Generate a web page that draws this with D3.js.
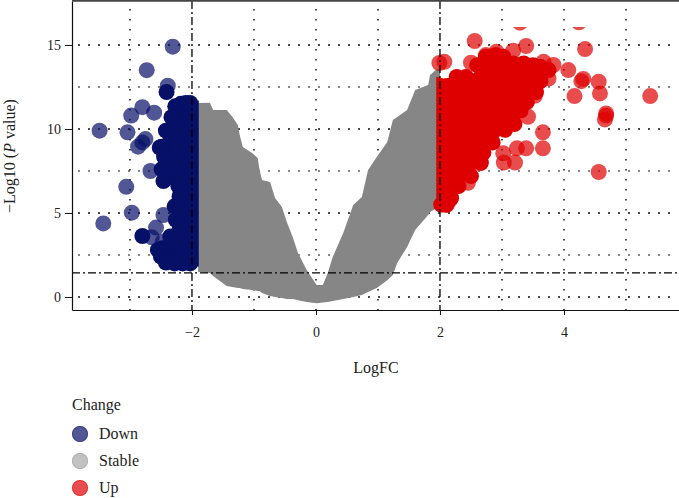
<!DOCTYPE html>
<html>
<head>
<meta charset="utf-8">
<script src="https://cdn.jsdelivr.net/npm/d3@7"></script>
<style>
  html, body { margin: 0; padding: 0; background: #fff; }
  text { font-family: "Liberation Serif", serif; fill: #222; }
</style>
</head>
<body>
<div id="chart-area"></div>
<script>
// values
var xTicks = [-2, 0, 2, 4];
var yTicks = [0, 5, 10, 15];
var xGrid = [-3, -1, 0, 1, 3, 4, 5];
var yGridMajor = [0, 5, 10, 15];
var yGridMinor = [2.5, 7.5, 12.5];
var fcCut = [-2, 2];
var pCut = 1.44;
var groups = ["Down", "Stable", "Up"];
var groupColors = ["#051066", "#868686", "#de0000"];
var groupOpacity = [0.7, 0.5, 0.7];

// stable cloud: logFC, upper and lower edge of -log10(p)
var stableFC = [-1.9,-1.71,-1.66,-1.44,-1.35,-1.26,-1.23,-1.18,-1.03,-0.94,-0.91,-0.87,-0.74,-0.66,-0.55,-0.47,-0.37,-0.29,-0.15,0.01,0.11,0.19,0.27,0.44,0.6,0.74,0.84,0.98,1.15,1.24,1.31,1.47,1.6,1.81,1.84,1.95,2];
var stableTop = [11.55,11.57,11.13,11.13,10.73,10.24,9.64,8.93,8.57,8.27,7.56,6.96,6.85,5.89,5.36,4.46,3.51,2.62,1.6,0.71,0.71,1.43,2.38,3.81,5.48,5.95,7.56,8.33,9.23,10.54,10.71,11.13,12.32,12.62,13.21,13.57,13.57];
var stableBottom = [1.49,1.43,1.25,0.65,0.6,0.54,0.53,0.48,0.42,0.36,0.36,0.24,0.06,0,-0.06,-0.12,-0.12,-0.2,-0.3,-0.37,-0.33,-0.3,-0.24,-0.12,0,0.12,0.3,0.54,1,1.31,2.02,2.98,3.99,4.88,5.06,5.3,5.3];

// dense part of the down genes, outline and the overlapping points on its rim
var downCoreFC = [-1.89,-1.89,-2,-2.3,-2.47,-2.52,-2.36,-2.28,-2.31,-2.23,-2.25,-2.42,-2.51,-2.47,-2.51,-2.44,-2.36,-2.25,-2.1];
var downCoreP = [11.7,1.8,1.9,1.9,2.5,2.9,3.7,4.6,5.4,6,6.6,7.1,7.6,8.35,8.95,9.9,10.7,11.3,11.6];
var downRimFC = [-2.03,-2.15,-2.28,-2.42,-2.48,-2.35,-2.26,-2.28,-2.2,-2.22,-2.4,-2.49,-2.45,-2.49,-2.42,-2.33,-2.22,-2.08,-2.03,-2.55,-2.5,-2.42,-2.46,-2.52,-2.8,-2.41,-2.27,-2.18,-2.1];
var downRimP = [2,2,2,2.5,2.9,3.6,4.6,5.4,6,6.6,7.1,7.6,8.35,8.95,9.9,10.7,11.2,11.5,11.55,2.8,2.4,2.05,6.9,8.9,3.63,12.2,11.35,11.5,11.55];
// single down genes
var downFC = [-2.31,-2.73,-2.39,-2.8,-2.98,-2.61,-3.49,-3.04,-2.75,-2.8,-2.87,-3.06,-2.97,-3.43,-2.67,-2.58,-2.46,-2.65,-2.47];
var downP = [14.9,13.5,12.58,11.3,10.8,10.97,9.9,9.8,9.4,9.2,8.95,6.56,5.02,4.38,7.5,4.13,4.88,3.55,3.3];

// dense part of the up genes, outline and the overlapping points on its rim
var upCoreFC = [1.94,2.05,2.27,2.5,2.7,2.85,3,3.2,3.5,3.7,3.72,3.6,3.5,3.3,3.3,3.15,2.9,2.8,2.65,2.6,2.45,2.25,2.18,2.08,2,1.94];
var upCoreP = [13.11,13,13.1,13.2,13.8,14.2,14.2,13.8,13.7,13.6,13.3,12.5,11.8,11.3,10.8,10,9.4,8.8,8.2,7.7,7.1,6.4,5.6,5.4,5.4,5.5];
var upRimFC = [2.27,2.42,2.6,2.74,2.9,3.02,3.18,3.35,3.5,3.62,3.75,3.62,3.55,3.4,3.3,3.2,3.05,2.85,2.7,2.66,2.5,2.3,2.18,2.1,2.02];
var upRimP = [13.1,13.1,13.8,14.3,14.4,14.3,13.9,13.9,13.8,13.7,13.5,12.85,12.2,11.6,11.1,10.3,9.95,9.2,8.6,8,7.2,6.6,5.9,5.5,5.5];
// single up genes
var upFC = [2.56,3.29,4.24,4.34,3.39,3.18,2.91,2.74,2.07,1.99,2.5,3.67,3.83,4.07,4.31,4.28,4.56,4.58,4.17,5.39,4.68,4.68,4.66,3.75,3.53,3.42,3.66,3.66,3.39,3.24,3.21,3.03,3.02,4.56,2.65,2.45,2.24,2.16,2.11,2.04];
var upP = [15.24,16.33,16.35,14.76,14.94,14.66,14.6,14.4,14,13.93,13.95,14,13.81,13.51,12.98,12.85,12.82,12.12,11.96,11.96,10.93,10.8,10.57,13,11.98,10.73,9.8,8.85,8.85,8.85,8,8,8.55,7.44,7.96,6.8,6.67,5.77,5.48,5.5];

var width = 679, height = 498;
var margin = { left: 72, right: 0, top: 1, bottom: 188 };
var r = 8;

var x = d3.scaleLinear().domain([-3.935, 5.855]).range([margin.left, width - margin.right]);
var y = d3.scaleLinear().domain([-0.774, 17.62]).range([height - margin.bottom, margin.top]);

var svg = d3.select("#chart-area").append("svg")
  .attr("width", width).attr("height", height)
  .style("display", "block");

// the top of the marks is cut off in the picture
svg.append("clipPath").attr("id", "marks-clip")
  .append("rect").attr("x", margin.left).attr("y", 27).attr("width", width - margin.left).attr("height", 284);

// grid
var grid = svg.append("g");
grid.selectAll(".gx").data(xGrid).enter().append("line")
  .attr("x1", d => x(d)).attr("x2", d => x(d))
  .attr("y1", y.range()[1] + 8).attr("y2", y.range()[0])
  .attr("stroke", "#111").attr("stroke-width", 1.5).attr("stroke-dasharray", "1.5 8.5");
grid.selectAll(".gy").data(yGridMajor).enter().append("line")
  .attr("x1", margin.left + 6).attr("x2", width - 3)
  .attr("y1", d => y(d)).attr("y2", d => y(d))
  .attr("stroke", "#111").attr("stroke-width", 1.6).attr("stroke-dasharray", "2 8");
grid.selectAll(".gym").data(yGridMinor).enter().append("line")
  .attr("x1", margin.left + 6).attr("x2", width - 3)
  .attr("y1", d => y(d)).attr("y2", d => y(d))
  .attr("stroke", "#111").attr("stroke-width", 1).attr("stroke-dasharray", "2 8");

// marks
var marks = svg.append("g").attr("clip-path", "url(#marks-clip)");

var outline = d3.line().x(d => x(d[0])).y(d => y(d[1]));

var stableEdge = stableFC.map((d, i) => [d, stableTop[i]])
  .concat(stableFC.map((d, i) => [d, stableBottom[i]]).reverse());
marks.append("path").attr("d", outline(stableEdge) + "Z").attr("fill", groupColors[1]);

function drawPoints(fc, p, idx, opacity) {
  marks.append("g").selectAll("circle").data(fc.map((d, i) => [d, p[i]])).enter().append("circle")
    .attr("cx", d => x(d[0]))
    .attr("cy", d => y(d[1]))
    .attr("r", r)
    .attr("fill", groupColors[idx])
    .attr("opacity", opacity);
}
function drawGroup(coreFC, coreP, rimFC, rimP, fc, p, idx) {
  drawPoints(fc, p, idx, groupOpacity[idx]);
  marks.append("path")
    .attr("d", outline(coreFC.map((d, i) => [d, coreP[i]])) + "Z")
    .attr("fill", groupColors[idx]);
  drawPoints(rimFC, rimP, idx, 1);
}
drawGroup(downCoreFC, downCoreP, downRimFC, downRimP, downFC, downP, 0);
drawGroup(upCoreFC, upCoreP, upRimFC, upRimP, upFC, upP, 2);

// cut-off lines
svg.selectAll(".vcut").data(fcCut).enter().append("line")
  .attr("x1", d => x(d)).attr("x2", d => x(d))
  .attr("y1", y.range()[1]).attr("y2", y.range()[0])
  .attr("stroke", "#000").attr("stroke-width", 1.3).attr("stroke-dasharray", "8 3 2 3");
svg.append("line")
  .attr("x1", margin.left).attr("x2", width)
  .attr("y1", y(pCut)).attr("y2", y(pCut))
  .attr("stroke", "#000").attr("stroke-width", 1.2).attr("stroke-dasharray", "8 3 2 3");

// axes
var bottomAxis = d3.axisBottom(x).tickValues(xTicks).tickSizeInner(5).tickSizeOuter(0).tickPadding(12)
  .tickFormat(d => d < 0 ? "\u2212" + Math.abs(d) : d);
var leftAxis = d3.axisLeft(y).tickValues(yTicks).tickSizeInner(7).tickSizeOuter(0).tickPadding(4);

var gx = svg.append("g").attr("transform", "translate(0," + y.range()[0] + ")").call(bottomAxis);
var gy = svg.append("g").attr("transform", "translate(" + margin.left + ",0)").call(leftAxis);
[gx, gy].forEach(function(g) {
  g.selectAll("text").style("font-size", "14px").style("font-family", '"Liberation Serif", serif').attr("fill", "#222");
  g.selectAll("line").attr("stroke", "#111");
  g.select(".domain").attr("stroke", "#111").attr("stroke-width", 1.2);
});
svg.append("line").attr("x1", margin.left).attr("x2", width).attr("y1", 0.8).attr("y2", 0.8)
  .attr("stroke", "#444").attr("stroke-width", 2);

// axis titles
svg.append("text").attr("x", 376).attr("y", 373).attr("text-anchor", "middle")
  .style("font-size", "16px").text("LogFC");

var yTitle = svg.append("text").attr("transform", "translate(15,156) rotate(-90)")
  .attr("text-anchor", "middle").style("font-size", "16px");
yTitle.append("tspan").text("\u2212Log10 (");
yTitle.append("tspan").style("font-style", "italic").text("P");
yTitle.append("tspan").text(" value)");

// legend
svg.append("text").attr("x", margin.left).attr("y", 410).style("font-size", "16px").text("Change");
var legendY = d3.scalePoint().domain(groups).range([434, 488]);
var legend = svg.selectAll(".legend").data(groups).enter().append("g");
legend.append("circle")
  .attr("cx", 80).attr("cy", d => legendY(d)).attr("r", r)
  .attr("fill", (d, i) => groupColors[i]).attr("opacity", (d, i) => groupOpacity[i]);
legend.append("circle")
  .attr("cx", 80).attr("cy", d => legendY(d)).attr("r", r - 0.4)
  .attr("fill", "none").attr("stroke", (d, i) => groupColors[i]).attr("stroke-opacity", 0.5).attr("stroke-width", 0.8);
legend.append("text")
  .attr("x", 99).attr("y", d => legendY(d) + 4.5)
  .style("font-size", "16px").text(d => d);
</script>
</body>
</html>
